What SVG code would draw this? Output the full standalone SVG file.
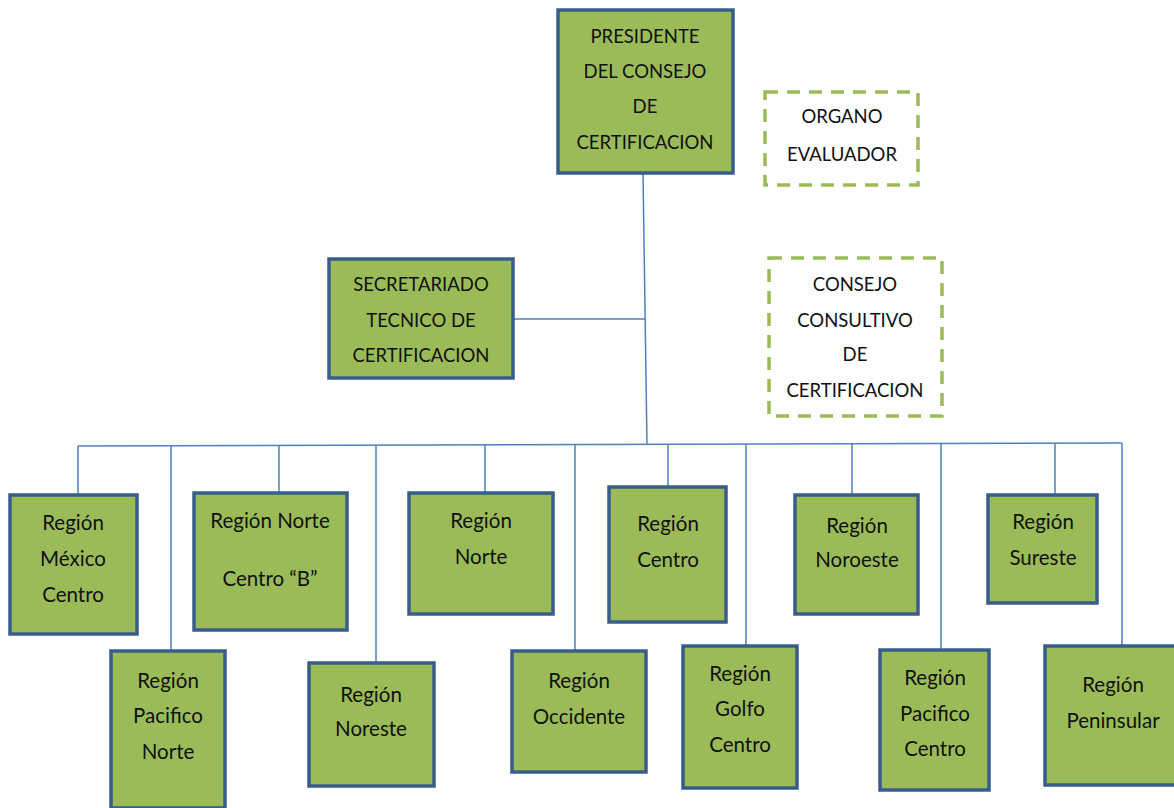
<svg xmlns="http://www.w3.org/2000/svg" width="1174" height="808" viewBox="0 0 1174 808">
<style>
.box{fill:#9bbb59;stroke:#385d8a;stroke-width:3.5}
.dash{fill:#ffffff;stroke:#9bbb59;stroke-width:3.5;stroke-dasharray:13 9}
.ln{stroke:#4f81bd;stroke-width:1.5;fill:none}
text{font-family:Lato,"Open Sans",sans-serif;font-size:18.5px;fill:#111;text-anchor:middle}
.r text{font-size:20.5px}
</style>
<rect width="1174" height="808" fill="#ffffff"/>
<g id="connectors">
<path class="ln" d="M643 173 L647 445"/>
<path class="ln" d="M513 319 L645 319"/>
<path class="ln" d="M78 446 L1122 443"/>
<path class="ln" d="M78 446 V495 M171 446 V651 M279 445 V493 M376 445 V663 M485 445 V493 M575 445 V651 M668 444 V487 M746 444 V646 M852 444 V495 M941 443 V650 M1055 443 V495 M1122 443 V646"/>
</g>
<g id="presidente">
<rect class="box" x="558" y="10" width="175" height="163"/>
<text x="645" y="43">PRESIDENTE</text>
<text x="645" y="78">DEL CONSEJO</text>
<text x="645" y="113">DE</text>
<text x="645" y="149">CERTIFICACION</text>
</g>
<g id="organo">
<rect class="dash" x="765" y="92" width="153" height="93"/>
<text x="842" y="123">ORGANO</text>
<text x="842" y="161">EVALUADOR</text>
</g>
<g id="secretariado">
<rect class="box" x="329" y="259" width="184" height="119"/>
<text x="421" y="291">SECRETARIADO</text>
<text x="421" y="327">TECNICO DE</text>
<text x="421" y="362">CERTIFICACION</text>
</g>
<g id="consejo">
<rect class="dash" x="769" y="258" width="173" height="158"/>
<text x="855" y="291">CONSEJO</text>
<text x="855" y="327">CONSULTIVO</text>
<text x="855" y="361">DE</text>
<text x="855" y="397">CERTIFICACION</text>
</g>
<g id="mexico-centro" class="r">
<rect class="box" x="10" y="495" width="127" height="139"/>
<text x="73" y="530">Región</text>
<text x="73" y="566">México</text>
<text x="73" y="602">Centro</text>
</g>
<g id="pacifico-norte" class="r">
<rect class="box" x="111" y="651" width="114" height="157"/>
<text x="168" y="688">Región</text>
<text x="168" y="723">Pacifico</text>
<text x="168" y="759">Norte</text>
</g>
<g id="norte-centro-b" class="r">
<rect class="box" x="194" y="493" width="153" height="137"/>
<text x="270" y="528">Región Norte</text>
<text x="270" y="586">Centro “B”</text>
</g>
<g id="noreste" class="r">
<rect class="box" x="309" y="663" width="125" height="123"/>
<text x="371" y="702">Región</text>
<text x="371" y="736">Noreste</text>
</g>
<g id="norte" class="r">
<rect class="box" x="409" y="493" width="144" height="121"/>
<text x="481" y="528">Región</text>
<text x="481" y="564">Norte</text>
</g>
<g id="occidente" class="r">
<rect class="box" x="512" y="651" width="134" height="121"/>
<text x="579" y="688">Región</text>
<text x="579" y="724">Occidente</text>
</g>
<g id="centro" class="r">
<rect class="box" x="609" y="487" width="117" height="135"/>
<text x="668" y="531">Región</text>
<text x="668" y="567">Centro</text>
</g>
<g id="golfo-centro" class="r">
<rect class="box" x="683" y="646" width="114" height="142"/>
<text x="740" y="681">Región</text>
<text x="740" y="716">Golfo</text>
<text x="740" y="752">Centro</text>
</g>
<g id="noroeste" class="r">
<rect class="box" x="795" y="495" width="123" height="119"/>
<text x="857" y="533">Región</text>
<text x="857" y="567">Noroeste</text>
</g>
<g id="pacifico-centro" class="r">
<rect class="box" x="880" y="650" width="109" height="140"/>
<text x="935" y="685">Región</text>
<text x="935" y="721">Pacifico</text>
<text x="935" y="756">Centro</text>
</g>
<g id="sureste" class="r">
<rect class="box" x="988" y="495" width="109" height="108"/>
<text x="1043" y="529">Región</text>
<text x="1043" y="565">Sureste</text>
</g>
<g id="peninsular" class="r">
<rect class="box" x="1045" y="646" width="135" height="139"/>
<text x="1113" y="692">Región</text>
<text x="1113" y="728">Peninsular</text>
</g>
</svg>
